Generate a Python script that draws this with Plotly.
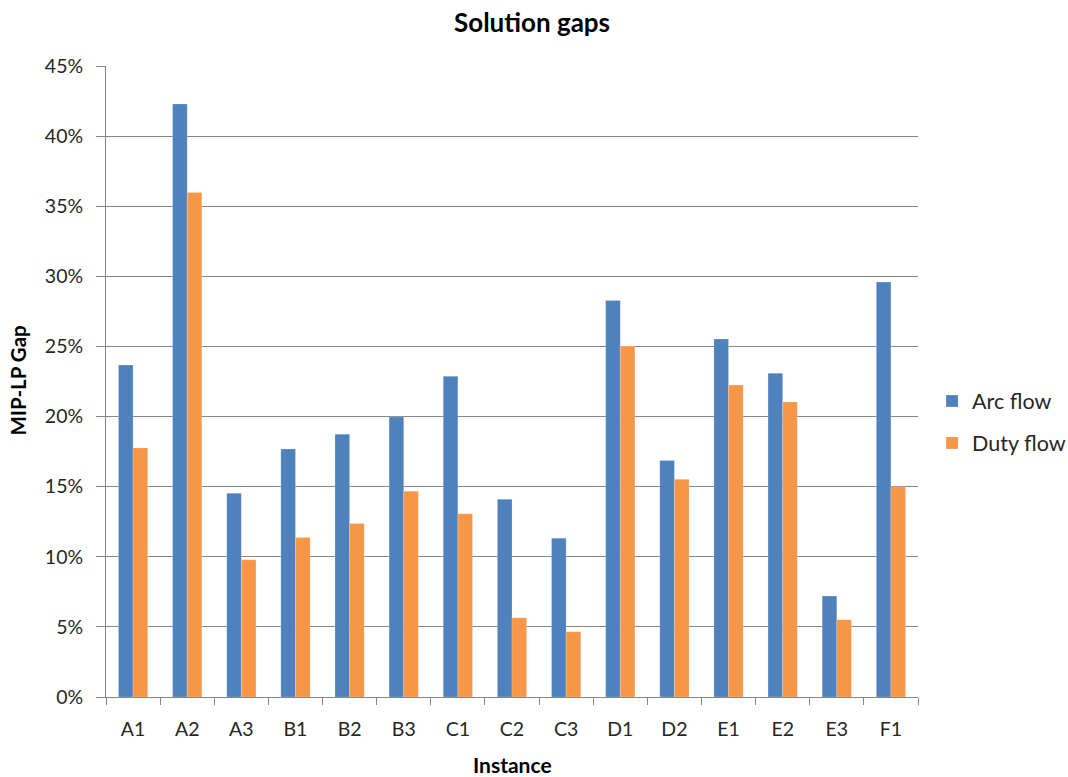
import plotly.graph_objects as go

categories = ["A1", "A2", "A3", "B1", "B2", "B3", "C1", "C2", "C3", "D1", "D2", "E1", "E2", "E3", "F1"]
arc_flow = [0.2367, 0.4229, 0.1453, 0.1769, 0.1874, 0.1997, 0.2287, 0.1410, 0.1133, 0.2828, 0.1686, 0.2553, 0.2308, 0.0720, 0.2959]
duty_flow = [0.1776, 0.3598, 0.0978, 0.1137, 0.1237, 0.1468, 0.1306, 0.0565, 0.0465, 0.2503, 0.1553, 0.2225, 0.2104, 0.0551, 0.1500]
y_ticks = [0, 0.05, 0.10, 0.15, 0.20, 0.25, 0.30, 0.35, 0.40, 0.45]
y_tick_text = ["0%", "5%", "10%", "15%", "20%", "25%", "30%", "35%", "40%", "45%"]

FONT = "Lato"
fig = go.Figure()
fig.add_trace(go.Bar(x=categories, y=arc_flow, name="Arc flow", marker_color="#4F81BD",
                     marker_line=dict(color="rgba(255,255,255,0.4)", width=0.5), legendgroup="a"))
fig.add_trace(go.Bar(x=categories, y=duty_flow, name="Duty flow", marker_color="#F79646",
                     marker_line=dict(color="rgba(255,255,255,0.4)", width=0.5), legendgroup="b"))

fig.update_layout(
    width=1068, height=777,
    margin=dict(l=106, r=150, t=66, b=80),
    paper_bgcolor="white", plot_bgcolor="white",
    font=dict(family=FONT, color="#262626", size=19),
    title=dict(text="<b>Solution gaps</b>", x=532 / 1068, xanchor="center", xref="container",
               y=1 - 23 / 777, yanchor="middle",
               font=dict(family=FONT, size=26, color="black")),
    barmode="group", bargap=0.46, bargroupgap=0,
    showlegend=True,
    legend=dict(xref="container", yref="container", x=0.8727, y=1 - 422 / 777,
                xanchor="left", yanchor="middle", tracegroupgap=11,
                font=dict(family=FONT, size=21.5, color="#262626"), itemwidth=30),
    xaxis=dict(automargin=False,
               showline=True, linecolor="#868686", linewidth=1,
               ticks="outside", tickson="boundaries", ticklen=7, tickcolor="#868686",
               tickfont=dict(family=FONT, size=19.5, color="#262626"), ticklabelstandoff=15,
               showgrid=False),
    yaxis=dict(automargin=False,
               range=[0, 0.45], tickvals=y_ticks, ticktext=y_tick_text,
               showline=True, linecolor="#868686", linewidth=1,
               ticks="outside", ticklen=9, tickcolor="#868686",
               tickfont=dict(family=FONT, size=19.5, color="#262626"), ticklabelstandoff=9,
               showgrid=True, gridcolor="#868686", gridwidth=1, zeroline=False),
    annotations=[
        dict(text="<b>Instance</b>", xref="paper", yref="paper", x=0.5, y=-(765 - 697) / 632,
             xanchor="center", yanchor="middle", showarrow=False,
             font=dict(family=FONT, size=21, color="black")),
        dict(text="<b>MIP-LP Gap</b>", xref="paper", yref="paper", x=-(106 - 18) / 812, y=(697 - 380) / 632,
             xanchor="center", yanchor="middle", showarrow=False, textangle=-90,
             font=dict(family=FONT, size=20.5, color="black")),
    ],
)

fig.write_html("out.html")
